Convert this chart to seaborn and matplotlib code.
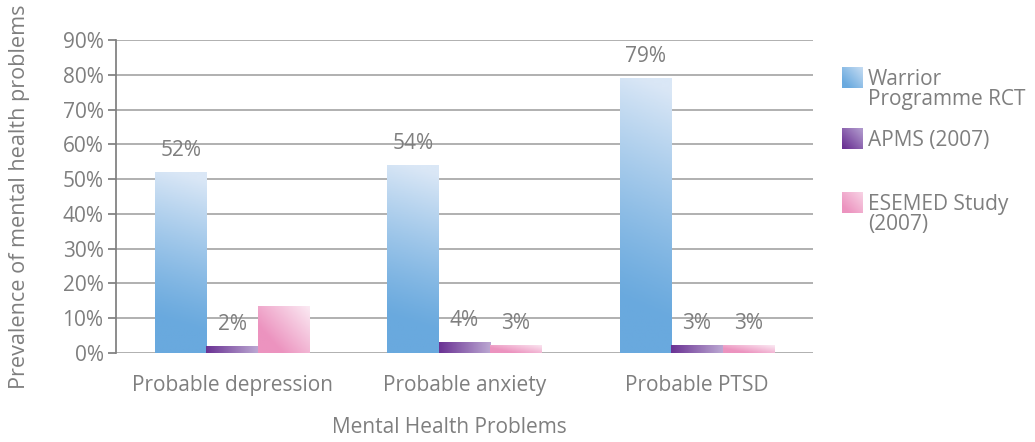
import numpy as np
import pandas as pd
import matplotlib
matplotlib.use("Agg")
import matplotlib.pyplot as plt
import seaborn as sns

problems = ["Probable depression", "Probable anxiety", "Probable PTSD"]
studies = ["Warrior\nProgramme RCT", "APMS (2007)", "ESEMED Study\n(2007)"]
warrior = [52, 54, 79]
apms = [2, 3.2, 2.2]
esemed = [13.5, 2.4, 2.2]
apms_labels = ["2%", "4%", "3%"]
warrior_labels = ["52%", "54%", "79%"]
esemed_labels = ["", "3%", "3%"]
yticks = [0, 10, 20, 30, 40, 50, 60, 70, 80, 90]

df = pd.DataFrame({
    "problem": problems * 3,
    "study": [s for s in studies for _ in problems],
    "value": warrior + apms + esemed,
})

sns.set_theme(style="white")
plt.rcParams["font.family"] = ["Open Sans", "DejaVu Sans"]
grey = "#7f7f7f"
gridc = "#a3a3a3"
fs = 15

W, H = 1035, 442
fig = plt.figure(figsize=(W / 100, H / 100), dpi=100)
ax = fig.add_axes([116 / W, 1 - 353 / H, (813 - 116) / W, (353 - 40) / H])

sns.barplot(data=df, x="problem", y="value", hue="study", order=problems,
            hue_order=studies, width=0.665, gap=0, legend=False, ax=ax,
            palette=["#6aaadf", "#7a45a0", "#ee98c2"], saturation=1)


def ramp(c0, c1, t):
    c0 = np.array(matplotlib.colors.to_rgb(c0))
    c1 = np.array(matplotlib.colors.to_rgb(c1))
    return c0 + (c1 - c0) * t[..., None]


u, v = np.meshgrid(np.linspace(0, 1, 40), np.linspace(0, 1, 80))
grads = [
    ramp("#69a9de", "#dae7f6", np.clip((v - 0.15) / 0.85 + 0.1 * u - 0.05, 0, 1) ** 1.2),
    ramp("#6b3394", "#bba7d2", u),
    ramp("#ec93bf", "#fbeaf3", np.clip(0.75 * u + 0.6 * v - 0.35, 0, 1)),
]
swatches = [
    ramp("#6aaadf", "#c9def3", np.clip(0.6 * u + 0.6 * v - 0.2, 0, 1)),
    ramp("#6b3394", "#ae96cb", np.clip(0.6 * u + 0.6 * v - 0.1, 0, 1)),
    ramp("#ec93bf", "#f8d5e6", np.clip(0.6 * u + 0.6 * v - 0.2, 0, 1)),
]

for i, cont in enumerate(ax.containers):
    for bar in cont:
        x0, y0 = bar.get_x(), bar.get_y()
        w, h = bar.get_width(), bar.get_height()
        im = ax.imshow(grads[i], extent=(x0, x0 + w, y0, y0 + h),
                       origin="lower", aspect="auto", zorder=3)
        im.set_clip_path(bar)
        bar.set_facecolor("none")
        bar.set_edgecolor("none")

for cont, labs in zip(ax.containers, [warrior_labels, apms_labels, esemed_labels]):
    ax.bar_label(cont, labels=labs, padding=8, color=grey, fontsize=fs)

ax.set_xlim(-0.5, 2.5)
ax.set_ylim(0, 90)
ax.set_yticks(yticks)
ax.set_yticklabels([f"{t}%" for t in yticks])
ax.yaxis.grid(True, color=gridc, linewidth=1.2)
ax.set_axisbelow(True)
for s in ["top", "right", "bottom"]:
    ax.spines[s].set_visible(False)
ax.spines["left"].set_color(grey)
ax.tick_params(axis="y", left=True, length=6, color=grey, labelcolor=grey,
               labelsize=fs, pad=3)
ax.tick_params(axis="x", bottom=False, labelcolor=grey, labelsize=fs, pad=10)
ax.set_xlabel("Mental Health Problems", color=grey, fontsize=fs)
ax.xaxis.set_label_coords(0.478, -0.205)
ax.set_ylabel("Prevalence of mental health problems", color=grey, fontsize=15.6)
ax.yaxis.set_label_coords(-0.123, 0.5)

# legend, drawn by hand to keep the uneven spacing of the original
sw_top = [67, 128, 192]
for lab, top, sw in zip(studies, sw_top, swatches):
    sax = fig.add_axes([842 / W, 1 - (top + 21) / H, 21 / W, 21 / H])
    sax.imshow(sw, origin="lower", aspect="auto")
    sax.axis("off")
    fig.text(868 / W, 1 - (top + 2) / H, lab, color=grey, fontsize=fs,
             va="top", ha="left", linespacing=0.95)

fig.savefig("out.png", dpi=100)
